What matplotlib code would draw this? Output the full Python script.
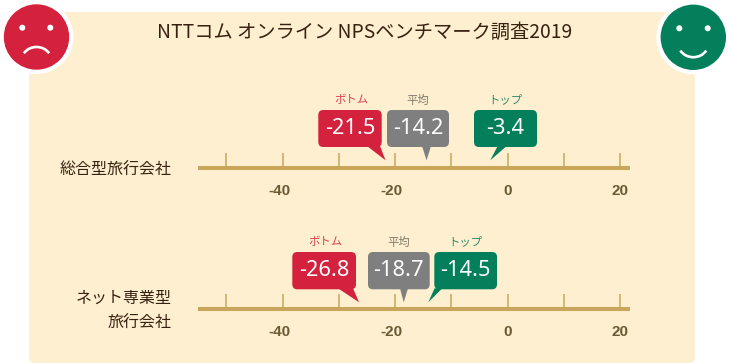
import numpy as np
import matplotlib
matplotlib.use("Agg")
import matplotlib.pyplot as plt
from matplotlib.patches import Circle, FancyBboxPatch, Polygon, Arc
from matplotlib.transforms import ScaledTranslation

plt.rcParams['font.family'] = ['Noto Sans CJK JP', 'DejaVu Sans']

title = "NTTコム オンライン NPSベンチマーク調査2019"
categories = ["総合型旅行会社", "ネット専業型\n旅行会社"]
bottom_scores = [-21.5, -26.8]
average_scores = [-14.2, -18.7]
top_scores = [-3.4, -14.5]
series_names = ["ボトム", "平均", "トップ"]
major_ticks = [-40, -20, 0, 20]
minor_ticks = [-50, -30, -10, 10]

# colours
RED = "#d4213d"
GREY = "#7f7f7f"
GREEN = "#047f5c"
PANEL = "#fdefcf"
AXIS = "#c8a55b"
TICK_TEXT = "#6b5a33"
DARK = "#3a2010"

W, H = 730, 363
fig = plt.figure(figsize=(W / 100, H / 100), dpi=100)

# background axes works in pixels, y pointing down
bg = fig.add_axes([0, 0, 1, 1])
bg.set_xlim(0, W)
bg.set_ylim(H, 0)
bg.axis("off")

bg.add_patch(FancyBboxPatch((34, 17), 656, 341, boxstyle="round,pad=5,rounding_size=6",
                            fc=PANEL, ec="none"))
bg.text(364.5, 32, title, ha="center", va="center", fontsize=13.85, color=DARK)

# faces
bg.add_patch(Circle((36.5, 37), 37, fc="white", ec="none"))
bg.add_patch(Circle((36.5, 37), 32.7, fc=RED, ec="none"))
for ex in (22.3, 50.3):
    bg.add_patch(Circle((ex, 27.7), 3, fc="white", ec="none"))
bg.add_patch(Arc((36.5, 60), 29.4, 26, theta1=208, theta2=332, ec="white", lw=1.9))

bg.add_patch(Circle((693.3, 37.3), 37, fc="white", ec="none"))
bg.add_patch(Circle((693.3, 37.3), 32.7, fc=GREEN, ec="none"))
for ex in (679.3, 707.7):
    bg.add_patch(Circle((ex, 28.3), 3, fc="white", ec="none"))
bg.add_patch(Arc((693.3, 43.7), 30, 27, theta1=28, theta2=152, ec="white", lw=1.9))

# per row layout: axis y pixel, label y pixel, box top/bottom, x offset of the tick labels
row_axis_y = [168, 308.7]
row_label_y = [170, 311]
box_top = [110, 252]
box_bottom = [147, 289.3]
tip_y = [160.3, 302.3]
name_y = [99.5, 241.5]
ticklabel_pad = [21.5, 21.5]
# box left, box right, tail base left, tail base right for each bubble
bubble_boxes = [
    [(318.3, 381.7, 367, 380), (387, 449, 422, 431), (474, 537, 497.7, 506.7)],
    [(292.3, 356, 338, 353), (368, 429.7, 400, 408), (434.3, 497, 434.6, 442.3)],
]
name_x = [[351, 418, 505], [325, 398.7, 465.7]]
tip_nudge = [[-1.1, -1.2, 1.7], [2.2, 1.3, 2.2]]
colors = [RED, GREY, GREEN]
name_colors = ["#d8404f", "#807a6a", "#2f8a68"]

X0, PX_PER_UNIT, AX_L, AX_R = 507.7, 5.63, 198, 630

for i, cat in enumerate(categories):
    ay = row_axis_y[i]
    ax = fig.add_axes([AX_L / W, (H - ay) / H, (AX_R - AX_L) / W, 20 / H])
    ax.patch.set_alpha(0)
    ax.set_xlim((AX_L - X0) / PX_PER_UNIT, (AX_R - X0) / PX_PER_UNIT)
    ax.set_ylim(0, 1)
    ax.set_yticks([])
    for s in ("left", "right", "top"):
        ax.spines[s].set_visible(False)
    ax.spines["bottom"].set_color(AXIS)
    ax.spines["bottom"].set_linewidth(2.9)
    ax.spines["bottom"].set_capstyle("butt")
    ax.set_xticks(major_ticks)
    ax.set_xticks(minor_ticks, minor=True)
    ax.set_xticklabels([str(t) for t in major_ticks], fontsize=11, fontweight="bold",
                       family="Liberation Sans", color=TICK_TEXT)
    ax.tick_params(axis="x", which="both", direction="in", length=10.8, width=1.1,
                   color=AXIS, pad=ticklabel_pad[i] - 10)
    for t, lab in zip(major_ticks, ax.get_xticklabels()):
        if t < 0:
            lab.set_transform(lab.get_transform() + ScaledTranslation(-3.5 / 100, 0, fig.dpi_scale_trans))

    bg.text(171.5, row_label_y[i], cat, ha="right", va="center",
            fontsize=11.5, color=DARK, linespacing=1.6)

    scores = [bottom_scores[i], average_scores[i], top_scores[i]]
    for j, score in enumerate(scores):
        left, right, base_l, base_r = bubble_boxes[i][j]
        # the tail points at the value on the axis
        tip_px = ax.transData.transform((score, 0))[0]
        tip_x = bg.transData.inverted().transform((tip_px, 0))[0] + tip_nudge[i][j]
        top, bot = box_top[i], box_bottom[i]
        bg.add_patch(FancyBboxPatch((left + 4.5, top + 4.5), right - left - 9, bot - top - 9,
                                    boxstyle="round,pad=4.5,rounding_size=5",
                                    fc=colors[j], ec="none", zorder=3))
        bg.add_patch(Polygon([(base_l, bot - 1), (base_r, bot - 1), (tip_x, tip_y[i])],
                             closed=True, fc=colors[j], ec="none", zorder=3))
        bg.text((left + right) / 2, (top + bot) / 2 - 0.5, "%.1f" % score, ha="center", va="center",
                fontsize=15.7, color="white", family="Noto Sans", zorder=4)
        bg.text(name_x[i][j], name_y[i] + 0.5, series_names[j], ha="center", va="center",
                fontsize=8.2, color=name_colors[j])

fig.savefig("out.png", dpi=100)
